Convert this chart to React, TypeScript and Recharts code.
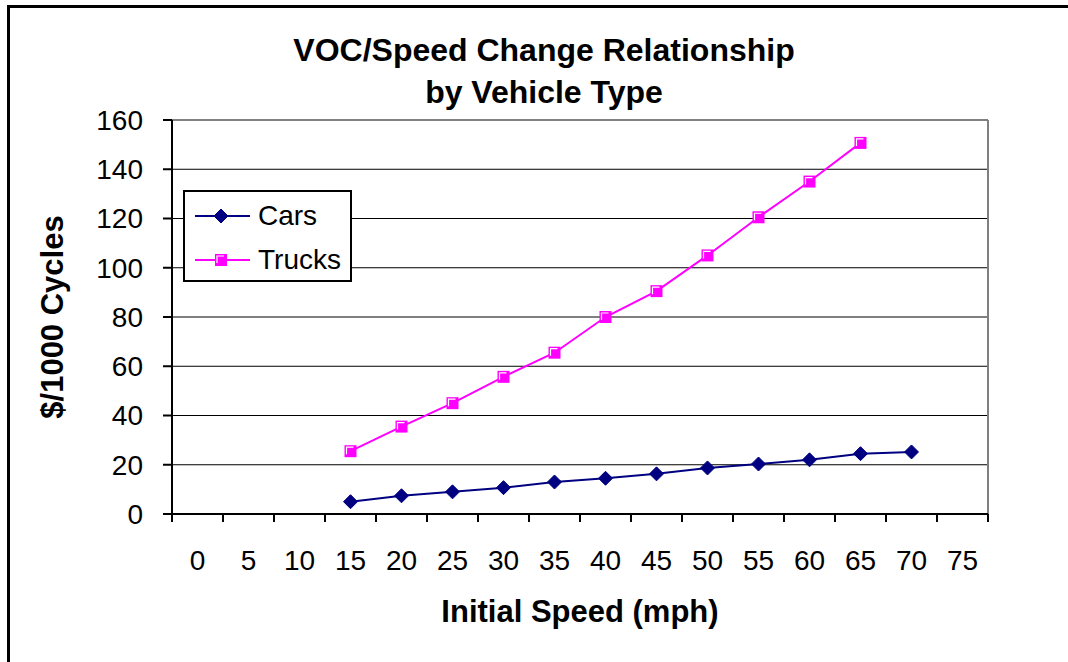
import React from "react";
import {
  LineChart,
  Line,
  XAxis,
  YAxis,
  CartesianGrid,
  ReferenceLine,
  Legend,
  Label,
} from "recharts";

const speeds = [15, 20, 25, 30, 35, 40, 45, 50, 55, 60, 65, 70];
const cars = [5, 7.4, 9, 10.7, 13, 14.5, 16.3, 18.7, 20.3, 22, 24.5, 25.2];
const trucks = [25.5, 35.5, 45, 55.7, 65.5, 80, 90.5, 105, 120.5, 135, 150.7, null];
const tickLabels = [0, 5, 10, 15, 20, 25, 30, 35, 40, 45, 50, 55, 60, 65, 70, 75];
const yTicks = [0, 20, 40, 60, 80, 100, 120, 140, 160];

const data = speeds.map((s, i) => ({ speed: s, Cars: cars[i], Trucks: trucks[i] }));

// category boundaries (ticks sit between the labels like an Excel category axis)
const boundaries = [...tickLabels.map((t) => t - 2.5), 77.5];

const W = 1068;
const H = 662;
const PLOT_LEFT = 172;
const PLOT_RIGHT = 988;
const HALF_BAND = (PLOT_RIGHT - PLOT_LEFT) / tickLabels.length / 2;

const FONT = "'Liberation Sans', Arial, sans-serif";
const CAR = "#000080";
const TRUCK = "#FF00FF";

const XTick = (props: any) => {
  const { x, y, payload } = props;
  const v = payload.value + 2.5;
  if (v > 75) return null;
  return (
    <text x={x + HALF_BAND} y={y} dy="0.71em" textAnchor="middle" fontSize={28} fill="#000" fontFamily={FONT}>
      {v}
    </text>
  );
};

const Diamond = (props: any) => {
  const { cx, cy } = props;
  if (cx == null || cy == null) return null;
  const r = 7;
  return <polygon points={`${cx},${cy - r} ${cx + r},${cy} ${cx},${cy + r} ${cx - r},${cy}`} fill={CAR} stroke={CAR} />;
};

const Square = (props: any) => {
  const { cx, cy } = props;
  if (cx == null || cy == null) return null;
  const r = 6;
  return (
    <g>
      <rect x={cx - r} y={cy - r} width={2 * r} height={2 * r} fill={TRUCK} />
      <polyline
        points={`${cx - r + 2},${cy + r - 3} ${cx - r + 2},${cy - r + 2} ${cx + r - 3},${cy - r + 2}`}
        fill="none"
        stroke="#fff"
        strokeWidth={1.2}
      />
    </g>
  );
};

const LegendBox = () => (
  <div
    style={{
      width: 165,
      height: 88,
      border: "2px solid #000",
      background: "#fff",
      fontFamily: FONT,
      fontSize: 28,
      color: "#000",
    }}
  >
    {[
      { name: "Cars", color: CAR, marker: "diamond" },
      { name: "Trucks", color: TRUCK, marker: "square" },
    ].map((e, i) => (
      <div key={e.name} style={{ display: "flex", alignItems: "center", height: 44, marginTop: i === 0 ? 2 : 0 }}>
        <svg width={70} height={20} style={{ marginLeft: 8 }}>
          <line x1={2} y1={10} x2={57} y2={10} stroke={e.color} strokeWidth={2} />
          {e.marker === "diamond" ? <Diamond cx={28} cy={10} /> : <Square cx={28} cy={10} />}
        </svg>
        <span style={{ marginLeft: -5 }}>{e.name}</span>
      </div>
    ))}
  </div>
);

export default function App() {
  return (
    <div style={{ position: "absolute", left: 0, top: 0, width: W, height: H, background: "#fff", overflow: "hidden" }}>
      <div
        style={{
          position: "absolute",
          left: 7,
          top: 5,
          width: W + 20,
          height: H + 20,
          borderLeft: "3px solid #000",
          borderTop: "3px solid #000",
        }}
      />
      <div
        style={{
          position: "absolute",
          left: 0,
          width: 1088,
          top: 29,
          textAlign: "center",
          fontFamily: FONT,
          fontWeight: "bold",
          fontSize: 32,
          lineHeight: "42px",
          color: "#000",
        }}
      >
        VOC/Speed Change Relationship
        <br />
        by Vehicle Type
      </div>
      <LineChart
        width={W}
        height={H}
        data={data}
        margin={{ top: 120, right: W - PLOT_RIGHT, left: 22, bottom: 88 }}
        style={{ position: "absolute", left: 0, top: 0 }}
      >
        <CartesianGrid vertical={false} stroke="#000" strokeWidth={1} />
        <XAxis
          dataKey="speed"
          type="number"
          domain={[-2.5, 77.5]}
          ticks={boundaries}
          interval={0}
          tick={<XTick />}
          tickSize={8}
          tickMargin={28}
          height={60}
          axisLine={{ stroke: "#000", strokeWidth: 2 }}
          tickLine={{ stroke: "#000", strokeWidth: 2 }}
        >
          <Label
            value="Initial Speed (mph)"
            position="bottom"
            offset={26}
            style={{ fontFamily: FONT, fontSize: 31, fontWeight: "bold", fill: "#000" }}
          />
        </XAxis>
        <YAxis
          domain={[0, 160]}
          ticks={yTicks}
          interval={0}
          width={150}
          tickSize={9}
          tickMargin={20}
          tick={{ fontSize: 28, fill: "#000", fontFamily: FONT }}
          axisLine={{ stroke: "#000", strokeWidth: 2 }}
          tickLine={{ stroke: "#000", strokeWidth: 2 }}
        >
          <Label
            value="$/1000 Cycles"
            angle={-90}
            position="insideLeft"
            offset={30}
            style={{ fontFamily: FONT, fontSize: 31, fontWeight: "bold", fill: "#000", textAnchor: "middle" }}
          />
        </YAxis>
        <ReferenceLine y={160} stroke="#808080" strokeWidth={2} />
        <ReferenceLine x={77.5} stroke="#808080" strokeWidth={2} />
        <Legend
          layout="vertical"
          align="center"
          verticalAlign="middle"
          content={<LegendBox />}
          wrapperStyle={{ left: 183, top: 190, width: 169 }}
        />
        <Line
          dataKey="Cars"
          stroke={CAR}
          strokeWidth={2}
          dot={<Diamond />}
          activeDot={false}
          isAnimationActive={false}
        />
        <Line
          dataKey="Trucks"
          stroke={TRUCK}
          strokeWidth={2}
          dot={<Square />}
          activeDot={false}
          connectNulls={false}
          isAnimationActive={false}
        />
      </LineChart>
    </div>
  );
}
